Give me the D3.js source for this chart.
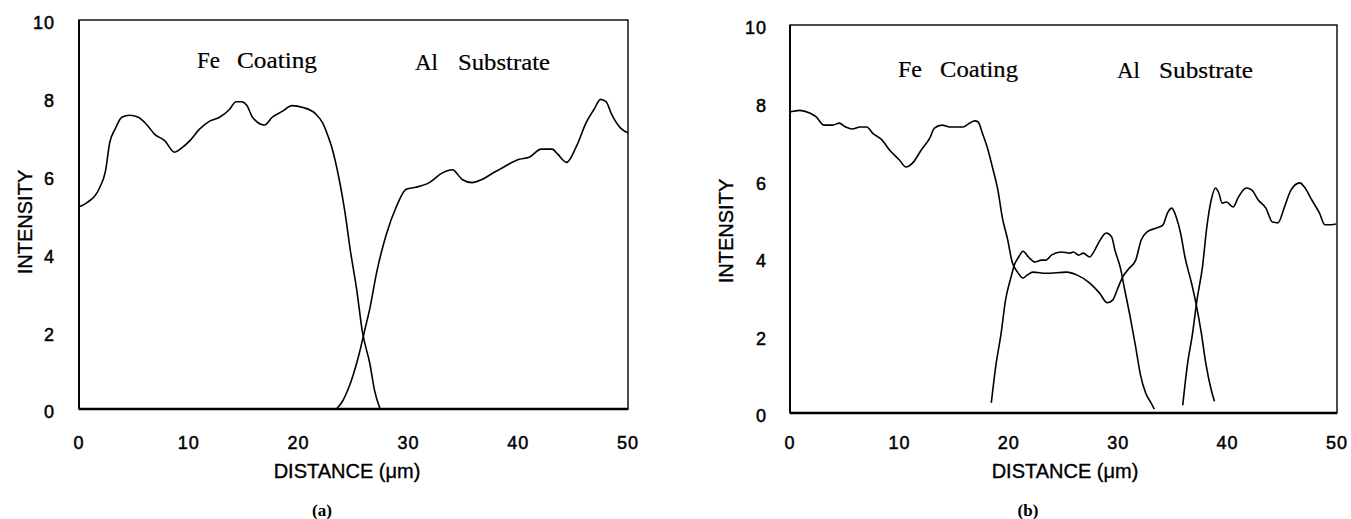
<!DOCTYPE html>
<html>
<head>
<meta charset="utf-8">
<script src="https://cdn.jsdelivr.net/npm/d3@7"></script>
<style>
  html, body { margin: 0; padding: 0; background: #fff; }
  svg { display: block; }
  .tick { font-family: "Liberation Sans", Arial, sans-serif; font-size: 18px; fill: #000; stroke: #000; stroke-width: 0.5px; letter-spacing: 1px; }
  .atitle { font-family: "Liberation Sans", Arial, sans-serif; font-size: 20px; fill: #000; stroke: #000; stroke-width: 0.35px; }
  .note { font-family: "Liberation Serif", "Times New Roman", serif; font-size: 23px; fill: #000; stroke: #000; stroke-width: 0.2px; }
  .plabel { font-family: "Liberation Serif", "Times New Roman", serif; font-size: 17px; font-weight: bold; fill: #000; }
</style>
</head>
<body>
<svg id="chart" width="1351" height="519"></svg>
<script>
// ---------------- data ----------------
const xTicks = [0, 10, 20, 30, 40, 50];
const yTicks = [0, 2, 4, 6, 8, 10];
const xTitle = "DISTANCE (\u03bcm)";
const yTitle = "INTENSITY";
const panelLabels = ["(a)", "(b)"];

// panel (a) : Fe coating profile
const feA_x = [0,0.7,1.9,2.4,2.8,3.3,3.9,4.6,5.4,6.2,6.9,7.8,8.7,9.3,10.1,11.0,11.9,12.8,13.7,14.3,14.8,15.3,15.8,16.9,17.6,18.5,19.4,20.4,21.5,22.2,22.7,23.0,23.7,24.2,24.7,25.3,25.8,26.5,26.9,27.4];
const feA_y = [5.2,5.3,5.7,6.1,6.85,7.2,7.5,7.55,7.5,7.3,7.06,6.9,6.6,6.7,6.9,7.2,7.4,7.5,7.7,7.9,7.9,7.8,7.5,7.3,7.5,7.65,7.8,7.75,7.6,7.35,7.0,6.75,5.9,5.1,4.1,3.05,2.0,1.15,0.5,0.02];
// panel (a) : Al substrate profile
const alA_x = [23.5,24.0,24.5,25.0,25.5,26.0,26.5,27.1,28.0,28.9,29.8,30.7,31.9,33.1,34.0,34.9,35.8,36.7,37.9,38.3,40.1,41.0,42.1,43.1,43.6,44.4,45.3,46.2,46.9,47.5,48.0,48.5,49.4,50];
const alA_y = [0.02,0.2,0.5,0.9,1.4,2.0,2.6,3.5,4.5,5.2,5.65,5.7,5.82,6.07,6.15,5.9,5.82,5.9,6.1,6.16,6.42,6.47,6.68,6.68,6.55,6.34,6.75,7.37,7.7,7.96,7.9,7.58,7.2,7.1];

// panel (b) : Fe profile
const feB_x = [0,0.9,1.8,2.4,3.1,3.9,4.5,5.1,5.7,6.4,7.0,7.6,8.4,9.1,10.0,10.6,11.2,12.0,12.8,13.2,13.9,14.6,15.8,16.4,16.9,17.2,17.6,18.1,18.5,19.0,19.4,19.9,20.3,20.8,21.3,21.7,22.2,23.4,25.3,26.2,27.4,28.3,29.0,29.5,29.9,30.4,31.0,31.6,32.1,32.6,33.5,34.1,34.5,34.9,35.3,35.7,36.1,36.7,37.1,37.6,38.0,38.5,38.8];
const feB_y = [7.76,7.8,7.73,7.63,7.42,7.42,7.47,7.37,7.32,7.37,7.37,7.2,7.04,6.78,6.52,6.34,6.44,6.78,7.1,7.34,7.42,7.37,7.37,7.47,7.53,7.5,7.2,6.78,6.34,5.75,5.05,4.46,3.9,3.63,3.48,3.56,3.63,3.6,3.63,3.56,3.35,3.09,2.84,2.91,3.17,3.5,3.73,3.94,4.46,4.66,4.77,4.85,5.15,5.28,5.05,4.64,4.02,3.35,2.84,2.06,1.29,0.6,0.3];
// panel (b) : intermediate layer profile
const midB_x = [18.4,18.8,19.3,19.7,20.2,20.5,20.9,21.3,21.8,22.4,23.0,23.4,23.9,24.8,25.6,25.9,26.4,26.8,27.4,27.7,28.2,28.9,29.4,29.7,30.2,30.6,31.1,31.6,32.0,32.5,33.0,33.3];
const midB_y = [0.26,1.19,2.06,2.91,3.5,3.81,4.02,4.17,4.02,3.89,3.94,3.94,4.07,4.15,4.12,4.15,4.07,4.12,4.02,4.12,4.38,4.64,4.54,4.2,3.74,3.17,2.47,1.7,1.03,0.52,0.26,0.1];
// panel (b) : Al substrate profile
const alB_x = [35.9,36.3,36.8,37.2,37.7,38.1,38.5,38.9,39.2,39.5,39.9,40.5,41.0,41.7,42.2,42.8,43.5,44.1,44.6,45.2,45.8,46.6,47.0,47.7,48.4,48.9,49.5,49.9];
const alB_y = [0.2,1.19,2.06,2.91,3.76,4.79,5.49,5.8,5.67,5.41,5.44,5.31,5.57,5.8,5.75,5.49,5.28,4.92,4.9,5.31,5.75,5.93,5.83,5.49,5.15,4.85,4.85,4.87];

// ---------------- drawing ----------------
const svg = d3.select("#chart");
const zip = (xs, ys) => xs.map((x, i) => [x, ys[i]]);

const panels = [
  { x0: 79, x1: 628, yTop: 20, yBot: 409, series: [zip(feA_x, feA_y), zip(alA_x, alA_y)],
    label: panelLabels[0], labelX: 322, tickRight: 55, xTitleX: 347, yTitleX: 25, yTitleY: 222,
    notes: [["Fe", 197, 68, 23], ["Coating", 237, 68, 80], ["Al", 415, 70, 23], ["Substrate", 458, 70, 92]] },
  { x0: 790, x1: 1337, yTop: 25, yBot: 413, series: [zip(feB_x, feB_y), zip(midB_x, midB_y), zip(alB_x, alB_y)],
    label: panelLabels[1], labelX: 1028, tickRight: 767, xTitleX: 1065, yTitleX: 726, yTitleY: 231,
    notes: [["Fe", 898, 77, 24], ["Coating", 940, 77, 78], ["Al", 1117, 78, 23], ["Substrate", 1159, 78, 94]] }
];

panels.forEach(p => {
  const x = d3.scaleLinear().domain([0, 50]).range([p.x0, p.x1]);
  const y = d3.scaleLinear().domain([0, 10]).range([p.yBot, p.yTop]);
  const g = svg.append("g");

  // frame
  g.append("rect")
    .attr("x", x(0)).attr("y", y(10))
    .attr("width", x(50) - x(0)).attr("height", y(0) - y(10))
    .attr("fill", "none").attr("stroke", "#000").attr("stroke-width", 1.4);
  // heavier baseline and left axis
  g.append("line").attr("x1", x(0)).attr("x2", x(50)).attr("y1", y(0)).attr("y2", y(0))
    .attr("stroke", "#000").attr("stroke-width", 2.4);
  g.append("line").attr("x1", x(0)).attr("x2", x(0)).attr("y1", y(10)).attr("y2", y(0))
    .attr("stroke", "#000").attr("stroke-width", 1.8);

  // tick labels
  g.selectAll(".xt").data(xTicks).enter().append("text")
    .attr("class", "tick").attr("x", d => x(d)).attr("y", 449)
    .attr("text-anchor", "middle").text(d => d);
  g.selectAll(".yt").data(yTicks).enter().append("text")
    .attr("class", "tick").attr("x", p.tickRight).attr("y", d => y(d) + 3)
    .attr("dy", "0.35em").attr("text-anchor", "end").text(d => d);

  // axis titles
  g.append("text").attr("class", "atitle").attr("x", p.xTitleX).attr("y", 478)
    .attr("text-anchor", "middle").text(xTitle);
  g.append("text").attr("class", "atitle")
    .attr("transform", `translate(${p.yTitleX + 7},${p.yTitleY}) rotate(-90)`)
    .attr("text-anchor", "middle").text(yTitle);

  // region annotations
  p.notes.forEach(([t, nx, ny, w]) => {
    g.append("text").attr("class", "note").attr("x", nx).attr("y", ny)
      .attr("textLength", w).attr("lengthAdjust", "spacingAndGlyphs").text(t);
  });

  // panel label
  g.append("text").attr("class", "plabel").attr("x", p.labelX).attr("y", 516)
    .attr("text-anchor", "middle").text(p.label);

  // curves
  const line = d3.line().x(d => x(d[0])).y(d => y(d[1])).curve(d3.curveMonotoneX);
  p.series.forEach(s => {
    g.append("path").datum(s).attr("d", line)
      .attr("fill", "none").attr("stroke", "#000").attr("stroke-width", 1.6)
      .attr("stroke-linejoin", "round");
  });
});
</script>
</body>
</html>
